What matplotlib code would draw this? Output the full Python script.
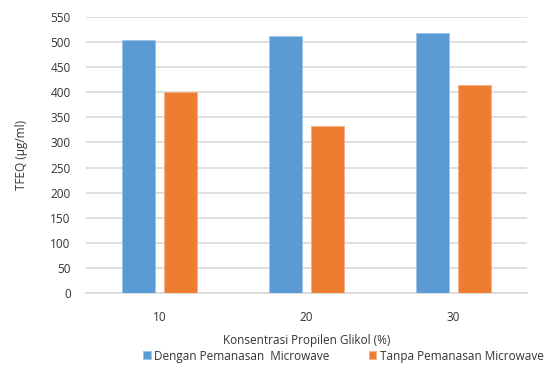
import matplotlib
matplotlib.use("Agg")
import matplotlib.pyplot as plt
import numpy as np

categories = ["10", "20", "30"]
dengan = [504, 513, 518]
tanpa = [401, 333, 414]
series_names = ["Dengan Pemanasan  Microwave", "Tanpa Pemanasan Microwave"]
yticks = list(range(0, 551, 50))

plt.rcParams['font.family'] = ['Open Sans', 'DejaVu Sans']
fig = plt.figure(figsize=(5.52, 3.68), dpi=100)
ax = fig.add_axes([86/552, 1-293/368, 441/552, 276/368])

x = np.arange(len(categories))
w = 0.224
ax.bar(x - 0.141, dengan, w, color="#5B9BD5", edgecolor="#9DC3E6", linewidth=0.6, label=series_names[0], zorder=3)
ax.bar(x + 0.141, tanpa, w, color="#ED7D31", edgecolor="#F4B183", linewidth=0.6, label=series_names[1], zorder=3)

ax.set_xlim(-0.5, 2.5)
ax.set_ylim(0, 550)
ax.set_yticks(yticks)
ax.set_xticks(x)
ax.set_xticklabels(categories)
ax.yaxis.grid(True, color="#D9D9D9", linewidth=1.2, zorder=0)
for s in ["top", "right", "left"]:
    ax.spines[s].set_visible(False)
ax.spines["bottom"].set_color("#D9D9D9")
ax.spines["bottom"].set_linewidth(1.2)
fs = 8.5
tc = "#333333"
ax.tick_params(axis="both", length=0, labelsize=fs, colors=tc)
ax.tick_params(axis="x", pad=13)
ax.tick_params(axis="y", pad=11)
ax.set_ylabel("TFEQ (µg/ml)", fontsize=fs, color=tc, labelpad=16)
ax.set_xlabel("Konsentrasi Propilen Glikol (%)", fontsize=fs, color=tc, labelpad=7)
ax.legend(loc="upper center", bbox_to_anchor=(0.584, -0.205), ncol=2, frameon=False,
          fontsize=fs, handlelength=0.65, handleheight=0.65, columnspacing=3.3, handletextpad=0.3,
          labelcolor=tc, borderpad=0, borderaxespad=0)

fig.savefig("out.png", dpi=100)
